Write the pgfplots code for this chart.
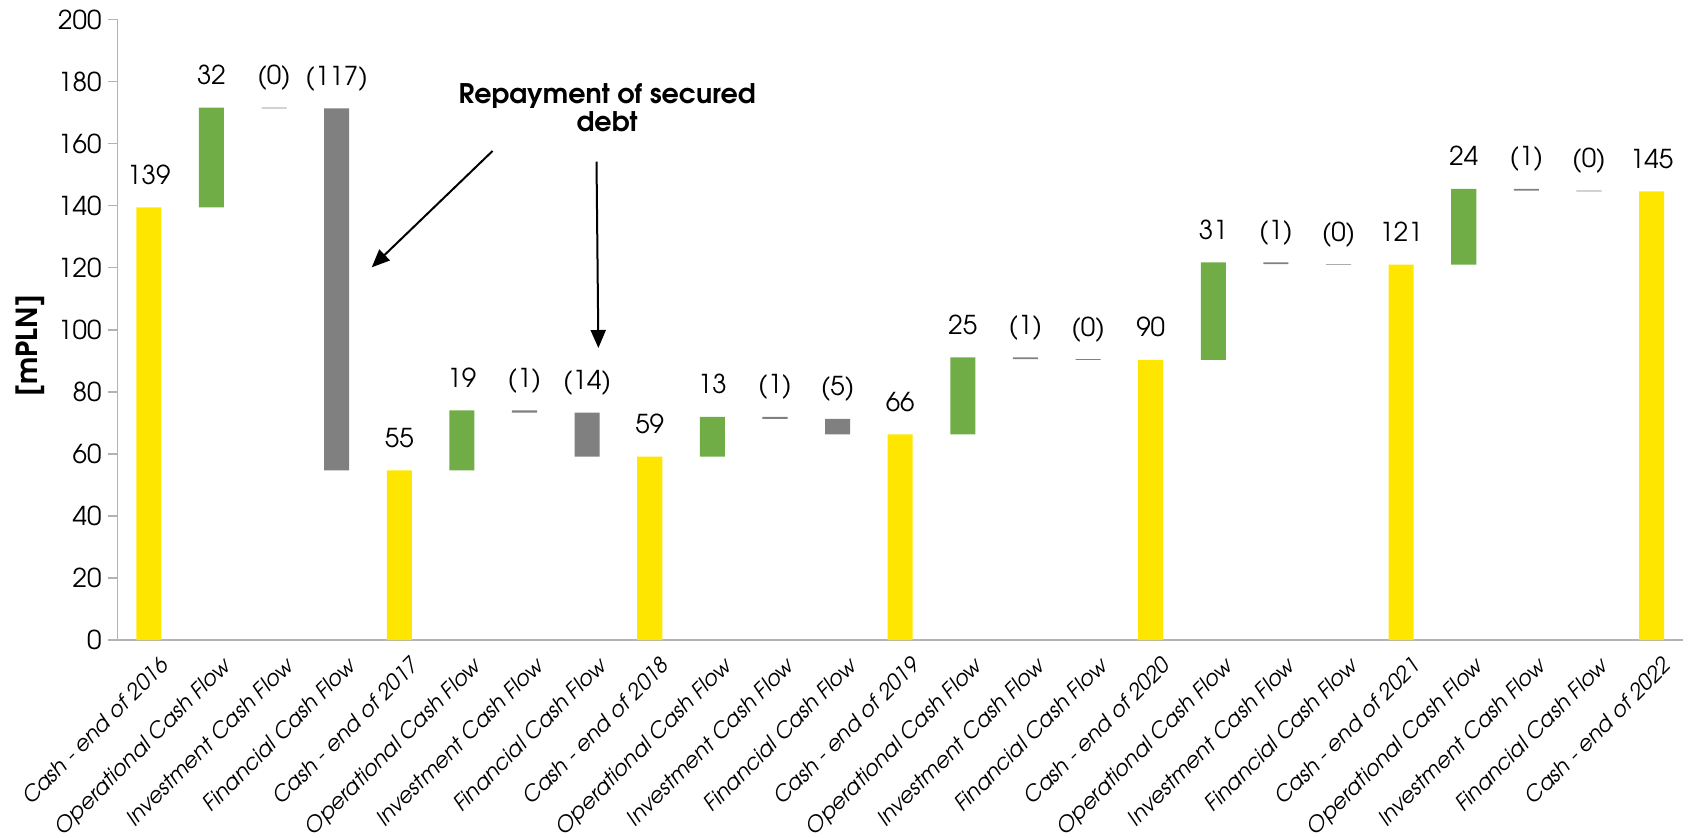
\documentclass[border=0pt]{standalone}
\usepackage{pgfplots}
\pgfplotsset{compat=1.18}
\usepackage{pgfplotstable}
\usepackage{fontspec}
\setmainfont{TeX Gyre Adventor}
\usetikzlibrary{arrows.meta}
\definecolor{eyyellow}{HTML}{FFE600}
\definecolor{eygreen}{HTML}{70AD47}
\definecolor{eygray}{HTML}{808080}
\definecolor{axgray}{HTML}{B3B3B3}

\pgfplotstableread{
x base yel grn gry top lab
0  0     139.4 0    0     139.4 139
1  139.4 0     32.2 0     171.6 32
2  171.3 0     0    0.3   171.6 (0)
3  54.7  0     0    116.6 171.3 (117)
4  0     54.7  0    0     54.7  55
5  54.7  0     19.3 0     74.0  19
6  73.3  0     0    0.7   74.0  (1)
7  59.1  0     0    14.2  73.3  (14)
8  0     59.1  0    0     59.1  59
9  59.1  0     12.8 0     71.9  13
10 71.3  0     0    0.6   71.9  (1)
11 66.3  0     0    5.0   71.3  (5)
12 0     66.3  0    0     66.3  66
13 66.3  0     24.8 0     91.1  25
14 90.5  0     0    0.6   91.1  (1)
15 90.3  0     0    0.2   90.5  (0)
16 0     90.3  0    0     90.3  90
17 90.3  0     31.4 0     121.7 31
18 121.1 0     0    0.6   121.7 (1)
19 121.0 0     0    0.15  121.15 (0)
20 0     121.0 0    0     121.0 121
21 121.0 0     24.4 0     145.4 24
22 144.8 0     0    0.6   145.4 (1)
23 144.6 0     0    0.2   144.8 (0)
24 0     144.6 0    0     144.6 145
}\wf

\begin{document}
\begin{tikzpicture}
\path[use as bounding box] (-58.75pt,-98.5pt) rectangle (786.25pt,320pt);
\begin{axis}[
  at={(0,0)}, anchor=south west,
  scale only axis,
  width=782.7pt, height=310.3pt,
  ybar stacked,
  bar width=0.4,
  xmin=-0.5, xmax=24.5,
  ymin=0, ymax=200,
  axis x line=bottom, axis y line=left,
  axis line style={-, axgray, line width=0.9pt},
  ytick={0,20,...,200},
  ytick style={axgray, line width=0.8pt},
  tick align=outside,
  major tick length=4.5pt,
  xtick=data,
  x tick style={draw=none},
  xticklabels={Cash - end of 2016, Operational Cash Flow, Investment Cash Flow, Financial Cash Flow,
    Cash - end of 2017, Operational Cash Flow, Investment Cash Flow, Financial Cash Flow,
    Cash - end of 2018, Operational Cash Flow, Investment Cash Flow, Financial Cash Flow,
    Cash - end of 2019, Operational Cash Flow, Investment Cash Flow, Financial Cash Flow,
    Cash - end of 2020, Operational Cash Flow, Investment Cash Flow, Financial Cash Flow,
    Cash - end of 2021, Operational Cash Flow, Investment Cash Flow, Financial Cash Flow,
    Cash - end of 2022},
  x tick label style={rotate=45, anchor=north east, font=\fontsize{10.8}{13}\selectfont\itshape, inner sep=1pt, xshift=2pt, yshift=-4.5pt},
  y tick label style={font=\fontsize{13}{15}\selectfont},
  /pgf/number format/assume math mode=true,
  ylabel={\textbf{[mPLN]}},
  every axis y label/.style={at={(ticklabel cs:0.5)}, rotate=90, anchor=near ticklabel, xshift=-8pt, font=\fontsize{14.5}{16}\selectfont},
  clip=false,
]
\addplot[draw=none, fill=none] table[x=x, y=base] {\wf};
\addplot[draw=none, fill=eyyellow] table[x=x, y=yel] {\wf};
\addplot[draw=none, fill=eygreen] table[x=x, y=grn] {\wf};
\addplot[draw=none, fill=eygray] table[x=x, y=gry] {\wf};

\node[font=\fontsize{13.5}{14}\selectfont\bfseries, align=center] at (axis cs:7.32,171.5) {Repayment of secured\\debt};
\draw[line width=1pt, -{Triangle[length=9pt,width=7.5pt]}] (axis cs:5.49,157.6) -- (axis cs:3.56,120.1);
\draw[line width=1pt, -{Triangle[length=9pt,width=7.5pt]}] (axis cs:7.15,154.2) -- (axis cs:7.18,94.1);
\end{axis}
\begin{axis}[
  at={(0,0)}, anchor=south west,
  scale only axis,
  width=782.7pt, height=310.3pt,
  xmin=-0.5, xmax=24.5,
  ymin=0, ymax=200,
  hide axis, clip=false,
]
\addplot[draw=none, mark=none, point meta=explicit symbolic,
  nodes near coords,
  every node near coord/.style={anchor=base, yshift=11.5pt, font=\fontsize{13}{15}\selectfont, text=black, inner sep=0pt}]
  table[x=x, y=top, meta=lab] {\wf};
\end{axis}
\end{tikzpicture}
\end{document}
